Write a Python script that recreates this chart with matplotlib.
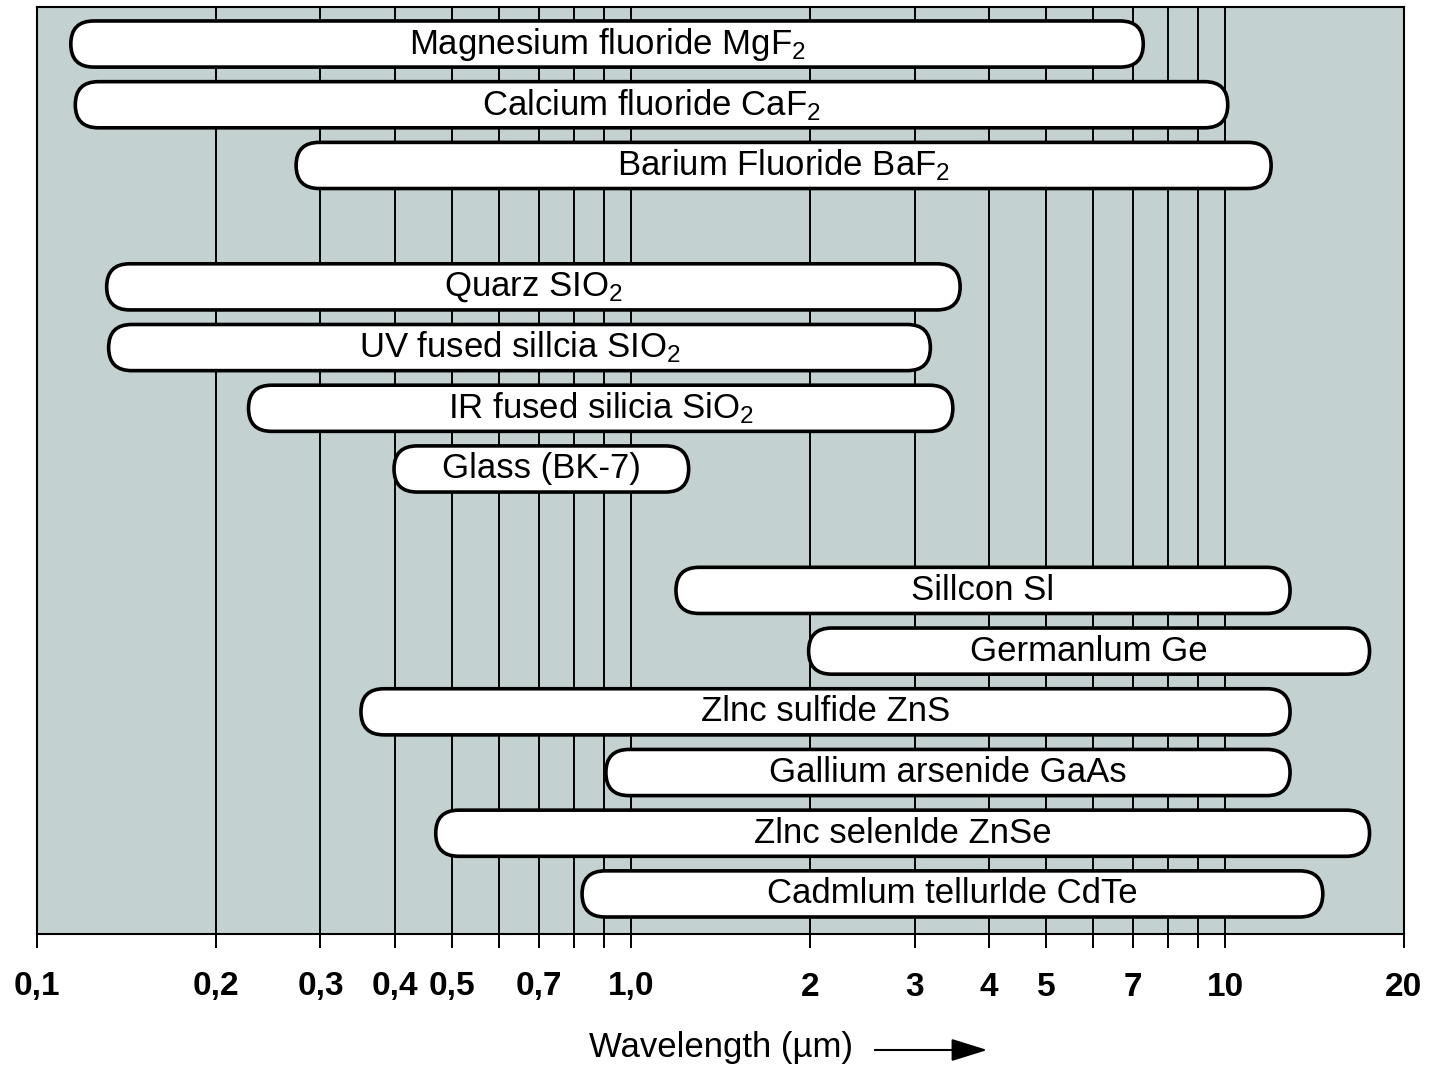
import matplotlib.pyplot as plt
import numpy as np
from matplotlib.patches import FancyBboxPatch, FancyArrowPatch
from matplotlib.transforms import IdentityTransform

# materialien und transmissionsbereich (µm)
materials = ["Magnesium fluoride MgF$_2$", "Calcium fluoride CaF$_2$", "Barium Fluoride BaF$_2$",
             "Quarz SIO$_2$", "UV fused sillcia SIO$_2$", "IR fused silicia SiO$_2$", "Glass (BK-7)",
             "Sillcon Sl", "Germanlum Ge", "Zlnc sulfide ZnS", "Gallium arsenide GaAs",
             "Zlnc selenlde ZnSe", "Cadmlum tellurlde CdTe"]
lam_min = [0.114, 0.116, 0.273, 0.131, 0.132, 0.227, 0.399, 1.19, 1.99, 0.351, 0.907, 0.469, 0.827]
lam_max = [7.28, 10.1, 11.95, 3.58, 3.19, 3.48, 1.25, 12.86, 17.5, 12.86, 12.86, 17.5, 14.6]
rows = [0, 1, 2, 4, 5, 6, 7, 9, 10, 11, 12, 13, 14]

tick_vals = [0.1, 0.2, 0.3, 0.4, 0.5, 0.7, 1.0, 2, 3, 4, 5, 7, 10, 20]
tick_labels = ["0,1", "0,2", "0,3", "0,4", "0,5", "0,7", "1,0", "2", "3", "4", "5", "7", "10", "20"]
minor_vals = [0.6, 0.8, 0.9, 6, 8, 9]
grid_vals = [0.2, 0.3, 0.4, 0.5, 0.6, 0.7, 0.8, 0.9, 1.0, 2, 3, 4, 5, 6, 7, 8, 9, 10]

plt.rcParams['font.family'] = ['Liberation Sans', 'DejaVu Sans']
plt.rcParams['mathtext.default'] = 'regular'

W, H = 1431, 1071
fig = plt.figure(figsize=(W / 100, H / 100), dpi=100)
ax = fig.add_axes([37 / W, 1 - 934 / H, (1404 - 37) / W, (934 - 7) / H])
ax.set_facecolor("#c3d1d0")
ax.set_xscale("log")
ax.set_xlim(0.1, 20)
ax.set_ylim(14.66, -0.61)
ax.set_yticks([])
for s in ax.spines.values():
    s.set_linewidth(1.5)

for g in grid_vals:
    ax.axvline(g, color="black", lw=1.4, zorder=1)

ax.set_xticks(tick_vals)
ax.set_xticklabels(tick_labels, fontweight="bold", fontsize=24)
ax.set_xticks(minor_vals, minor=True)
ax.xaxis.set_minor_formatter(plt.NullFormatter())
ax.tick_params(axis="x", which="both", direction="out", length=10, width=1.4, color="black", pad=17)
for t in ax.xaxis.get_major_ticks():
    if t.get_loc() in (0.1, 20):
        t.tick1line.set_color("#8a2be2")

# balken als abgerundete "pillen" in pixelkoordinaten
bar_h = 0.76
for name, lo, hi, r in zip(materials, lam_min, lam_max, rows):
    (x0, y0) = ax.transData.transform((lo, r + bar_h / 2))
    (x1, y1) = ax.transData.transform((hi, r - bar_h / 2))
    hh = y1 - y0
    p = FancyBboxPatch((x0, y0), x1 - x0, hh, boxstyle=f"round,pad=0,rounding_size={hh / 2}",
                       transform=IdentityTransform(), facecolor="white", edgecolor="black",
                       lw=2.6, zorder=3)
    ax.add_patch(p)
    ax.text(np.sqrt(lo * hi), r, name, ha="center", va="center", fontsize=25,
            zorder=4, color="black")

fig.text(721 / W, 1 - 1047 / H, "Wavelength (µm)", ha="center", va="center", fontsize=25)
arr = FancyArrowPatch((872 / W, 1 - 1050 / H), (990 / W, 1 - 1050 / H), transform=fig.transFigure,
                      arrowstyle="-|>,head_length=1.6,head_width=0.5", mutation_scale=14,
                      color="black", lw=1.5)
fig.add_artist(arr)

fig.savefig("out.png", dpi=100)
